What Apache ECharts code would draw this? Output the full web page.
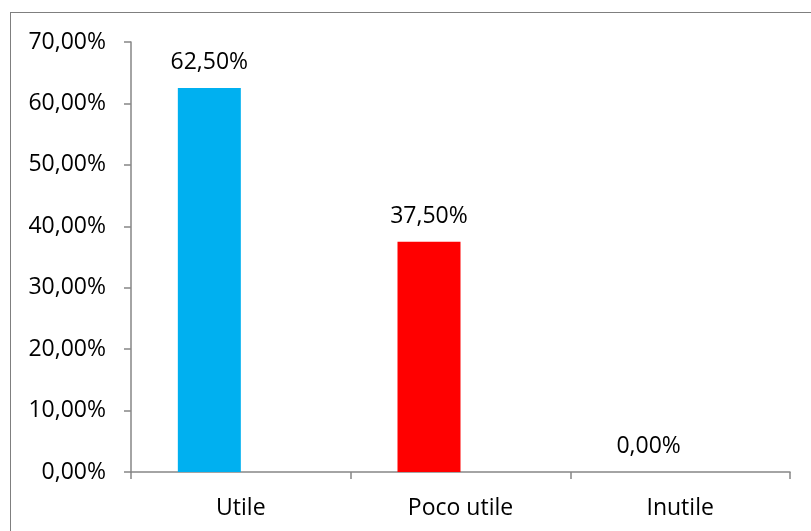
<!DOCTYPE html>
<html>
<head>
<meta charset="utf-8">
<script src="https://cdn.jsdelivr.net/npm/echarts@6/dist/echarts.min.js"></script>
<style>
html,body{margin:0;padding:0;background:#fff;}
#frame{position:absolute;left:10px;top:12px;width:830px;height:560px;border:1.5px solid #7f7f7f;box-sizing:border-box;}
#c{position:absolute;left:0;top:0;width:811px;height:531px;}
</style>
</head>
<body>
<div id="frame"></div>
<div id="c"></div>
<script>
var categories = ['Utile', 'Poco utile', 'Inutile'];
var values = [0.625, 0.375, 0.0];
var colors = ['#00B0F0', '#FF0000', '#00B0F0'];
var emptySeries = ['-', '-', '-'];
var yMin = 0, yMax = 0.7, yStep = 0.1;

function pct(v) {
  return (v * 100).toFixed(2).replace('.', ',') + '%';
}

var chart = echarts.init(document.getElementById('c'));
var font = 'Open Sans';
chart.setOption({
  animation: false,
  grid: { left: 131, right: 21, top: 42, bottom: 59, containLabel: false },
  xAxis: {
    type: 'category',
    data: categories,
    boundaryGap: true,
    axisLine: { lineStyle: { color: '#868686', width: 1.5 } },
    axisTick: { show: true, length: 7, alignWithLabel: false, lineStyle: { color: '#868686', width: 1.5 } },
    axisLabel: { color: '#000', fontFamily: font, fontSize: 23, margin: 25 }
  },
  yAxis: {
    type: 'value',
    min: yMin, max: yMax, interval: yStep,
    splitLine: { show: false },
    axisLine: { show: true, lineStyle: { color: '#868686', width: 1.5 } },
    axisTick: { show: true, length: 7, lineStyle: { color: '#868686', width: 1.5 } },
    axisLabel: { color: '#000', fontFamily: font, fontSize: 23, margin: 25, formatter: pct }
  },
  series: [
    {
      type: 'bar',
      barWidth: 63,
      barGap: '0%',
      data: values.map(function (v, i) { return { value: v, itemStyle: { color: colors[i] } }; }),
      label: {
        show: true, position: 'top', distance: 14,
        color: '#000', fontFamily: font, fontSize: 23,
        formatter: function (p) { return pct(p.value); }
      }
    },
    {
      type: 'bar',
      barWidth: 63,
      data: emptySeries
    }
  ]
});
</script>
</body>
</html>
